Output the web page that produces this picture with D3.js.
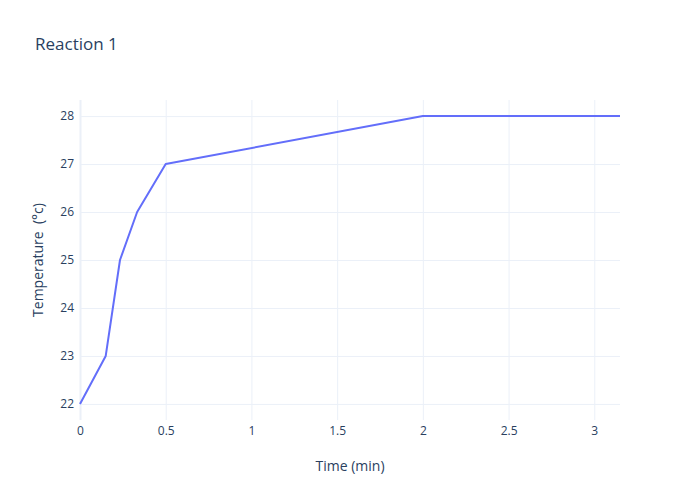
<!DOCTYPE html>
<html><head><meta charset="utf-8">
<script src="https://cdn.jsdelivr.net/npm/d3@7"></script>
<style>body{margin:0;background:#fff;} text{font-family:"Open Sans",sans-serif;}</style>
</head><body><svg id="c" width="700" height="500"></svg>
<script>
const timeMin = [0, 0.15, 0.2333, 0.3333, 0.5, 2, 3.15];
const tempC = [22, 23, 25, 26, 27, 28, 28];
const xTicks = [0, 0.5, 1, 1.5, 2, 2.5, 3];
const yTicks = [22, 23, 24, 25, 26, 27, 28];
const title = "Reaction 1";
const xTitle = "Time (min)";
const yTitle = "Temperature  (°c)";

const svg = d3.select("#c");
const m = {l:80, r:80, t:100, b:80};
const W = 700, H = 500;
const x = d3.scaleLinear().domain([0, 3.15]).range([m.l, W - m.r]);
const y = d3.scaleLinear().domain([21.665, 28.335]).range([H - m.b, m.t]);
const col = "#2a3f5f", grid = "#ebf0f8";

const gx = svg.append("g").attr("transform", `translate(0,${H - m.b})`)
  .call(d3.axisBottom(x).tickValues(xTicks).tickSize(-(H - m.t - m.b)).tickPadding(6).tickFormat(d3.format("")));
const gy = svg.append("g").attr("transform", `translate(${m.l},0)`)
  .call(d3.axisLeft(y).tickValues(yTicks).tickSize(-(W - m.l - m.r)).tickPadding(6).tickFormat(d3.format("d")));
[gx, gy].forEach(g => {
  g.select(".domain").remove();
  g.selectAll(".tick line").attr("stroke", grid).attr("stroke-width", 1);
  g.selectAll(".tick text").attr("fill", col).style("font-size", "12px");
});
gx.selectAll(".tick").filter(d => d === 0).select("line").attr("stroke-width", 2);

const line = d3.line().x((d, i) => x(timeMin[i])).y(d => y(d));
svg.append("path").datum(tempC).attr("d", line)
  .attr("fill", "none").attr("stroke", "#636efa").attr("stroke-width", 2).attr("stroke-linejoin", "round");

svg.append("text").attr("x", 35).attr("y", 50).attr("fill", col).style("font-size", "17px").text(title);
svg.append("text").attr("x", (m.l + W - m.r) / 2).attr("y", 471).attr("text-anchor", "middle")
  .attr("fill", col).style("font-size", "14px").text(xTitle);
svg.append("text").attr("transform", `translate(43,${(m.t + H - m.b) / 2}) rotate(-90)`).attr("text-anchor", "middle")
  .attr("fill", col).style("font-size", "14px").style("white-space", "pre").attr("xml:space", "preserve").text(yTitle);
</script></body></html>
